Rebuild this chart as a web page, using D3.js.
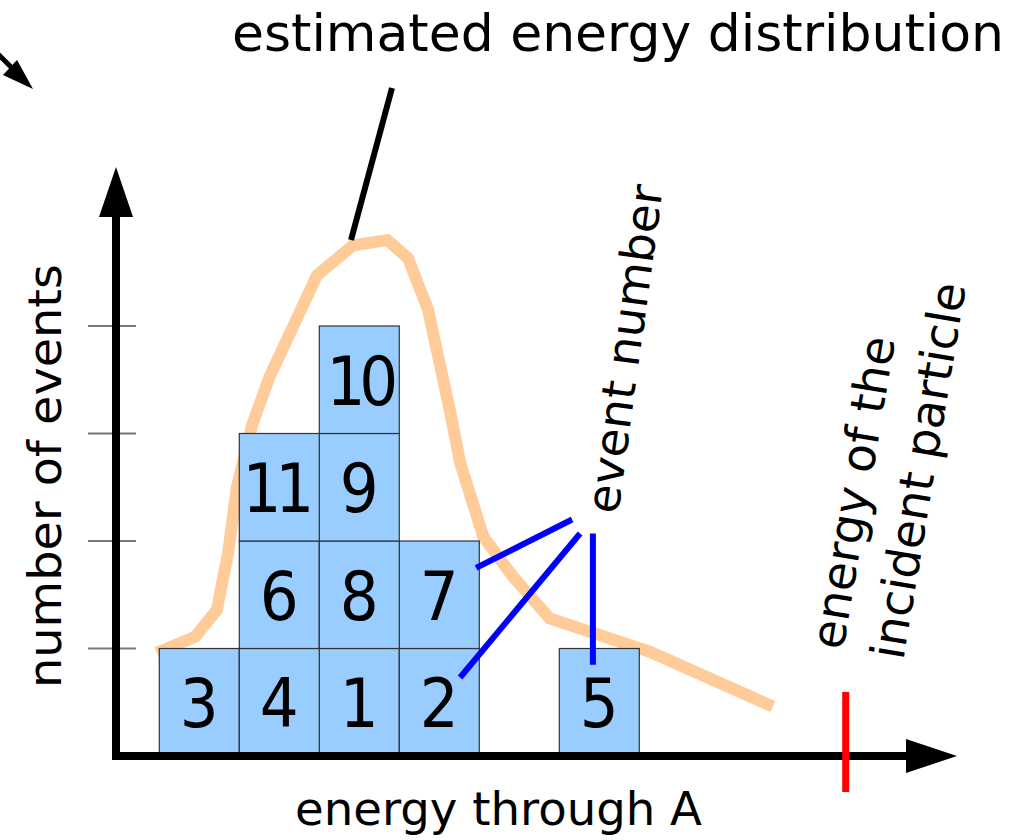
<!DOCTYPE html>
<html>
<head>
<meta charset="utf-8">
<script src="https://cdn.jsdelivr.net/npm/d3@7"></script>
<style>
  body { margin: 0; background: #fff; }
  svg { display: block; }
  text { font-family: 'DejaVu Sans', sans-serif; fill: #000; }
  .box { fill: #99ccff; stroke: #333; stroke-width: 1.2; }
  .box_label { font-family: 'DejaVu Sans Condensed', 'DejaVu Sans', sans-serif; font-size: 68px; text-anchor: middle; }
  .tick_line { stroke: #777; stroke-width: 2; }
  .axis_line { stroke: #000; stroke-width: 8; }
</style>
</head>
<body>
<svg id="chart" width="1022" height="840"></svg>
<script>
// bin of each event, event number = index + 1 (stacked in arrival order)
const eventBins = [2, 3, 0, 1, 5, 1, 3, 2, 2, 2, 1];
const yTicks = [1, 2, 3, 4];

// estimated energy distribution (energy in bin units, height in events)
const curveE = [-0.03, 0.45, 0.72, 0.86, 0.97, 1.16, 1.38, 1.97, 2.42, 2.85, 3.11, 3.36, 3.63, 3.76, 4.05, 4.42, 4.88, 6.13, 7.67];
const curveN = [0.96, 1.11, 1.36, 1.89, 2.50, 3.08, 3.53, 4.47, 4.75, 4.80, 4.63, 4.15, 3.22, 2.73, 2.04, 1.67, 1.28, 0.97, 0.46];

const incidentEnergy = 8.58;

// "event number" pointers: from label point to box
const pointerEvents = [7, 2, 5];
const pointerFrom = [[5.16, 2.20], [5.26, 2.07], [5.42, 2.07]];
const pointerTo = [[3.96, 1.75], [3.76, 0.73], [5.42, 0.85]];

const svg = d3.select('#chart');
svg.append('rect').attr('width', 1022).attr('height', 840).attr('fill', '#fff');

const x = d3.scaleLinear().domain([0, 10]).range([159.3, 959.3]);
const y = d3.scaleLinear().domain([0, 4]).range([756, 326]);

const originX = 116, originY = y(0);
const xTip = 957, yTip = 167;

// stack the events into their bins
const counts = {};
const boxes = eventBins.map((b, i) => {
	const lvl = counts[b] || 0;
	counts[b] = lvl + 1;
	return {num: i + 1, bin: b, lvl: lvl};
});

// y ticks
svg.selectAll('.tick_line')
	.data(yTicks).enter()
	.append('line')
	.attr('class', 'tick_line')
	.attr('x1', originX - 28)
	.attr('x2', originX + 20)
	.attr('y1', d => y(d))
	.attr('y2', d => y(d));

// distribution curve (sits behind the boxes)
const line = d3.line()
	.x(d => x(d[0]))
	.y(d => y(d[1]));

svg.append('path')
	.datum(d3.zip(curveE, curveN))
	.attr('d', line)
	.style('fill', 'none')
	.style('stroke', '#ffcc99')
	.style('stroke-width', 12)
	.style('stroke-linejoin', 'miter');

// boxes
const gBox = svg.selectAll('.g_box')
	.data(boxes).enter()
	.append('g')
	.attr('class', 'g_box');

gBox.append('rect')
	.attr('class', 'box')
	.attr('x', d => x(d.bin))
	.attr('y', d => y(d.lvl + 1))
	.attr('width', d => x(d.bin + 1) - x(d.bin))
	.attr('height', d => y(d.lvl) - y(d.lvl + 1));

gBox.append('text')
	.attr('class', 'box_label')
	.attr('x', d => x(d.bin + 0.5) - (d.num === 11 ? 4 : 0))
	.attr('y', d => y(d.lvl + 0.5) + 0.3645 * 68)
	.style('letter-spacing', d => d.num > 9 ? '-6px' : null)
	.text(d => d.num);

// axes with arrow heads
svg.append('line')
	.attr('class', 'axis_line')
	.attr('x1', originX).attr('y1', originY + 4)
	.attr('x2', originX).attr('y2', yTip + 45);
svg.append('line')
	.attr('class', 'axis_line')
	.attr('x1', originX - 4).attr('y1', originY)
	.attr('x2', xTip - 45).attr('y2', originY);

svg.append('path')
	.attr('d', `M${originX},${yTip} L${originX - 17},${yTip + 50} L${originX + 17},${yTip + 50} Z`)
	.style('fill', '#000');
svg.append('path')
	.attr('d', `M${xTip},${originY} L${xTip - 51},${originY - 17} L${xTip - 51},${originY + 17} Z`)
	.style('fill', '#000');

// incident particle energy
svg.append('line')
	.attr('x1', x(incidentEnergy)).attr('x2', x(incidentEnergy))
	.attr('y1', originY - 64).attr('y2', originY + 36)
	.style('stroke', '#ff0000')
	.style('stroke-width', 7);

// event number pointers
svg.selectAll('.pointer')
	.data(pointerEvents).enter()
	.append('line')
	.attr('class', 'pointer')
	.attr('x1', (d, i) => x(pointerFrom[i][0]))
	.attr('y1', (d, i) => y(pointerFrom[i][1]))
	.attr('x2', (d, i) => x(pointerTo[i][0]))
	.attr('y2', (d, i) => y(pointerTo[i][1]))
	.style('stroke', '#0000ff')
	.style('stroke-width', 6);

// title pointer
svg.append('line')
	.attr('x1', 392).attr('y1', 88)
	.attr('x2', 351).attr('y2', 240)
	.style('stroke', '#000')
	.style('stroke-width', 6);

// stray arrow in the top-left corner
svg.append('line')
	.attr('x1', -12).attr('y1', 44)
	.attr('x2', 12).attr('y2', 68)
	.style('stroke', '#000')
	.style('stroke-width', 5);
svg.append('path')
	.attr('d', 'M33,89 L3,75 L17,60 Z')
	.style('fill', '#000');

// labels
svg.append('text')
	.attr('x', 232).attr('y', 51)
	.attr('textLength', 772)
	.attr('lengthAdjust', 'spacingAndGlyphs')
	.style('font-size', '51px')
	.text('estimated energy distribution');

svg.append('text')
	.attr('x', 295).attr('y', 825)
	.attr('textLength', 407)
	.attr('lengthAdjust', 'spacingAndGlyphs')
	.style('font-size', '46px')
	.text('energy through A');

svg.append('text')
	.attr('transform', 'translate(61,688) rotate(-90)')
	.attr('textLength', 424)
	.attr('lengthAdjust', 'spacingAndGlyphs')
	.style('font-size', '47px')
	.text('number of events');

svg.append('text')
	.attr('transform', 'translate(618,515) rotate(-82.2)')
	.attr('textLength', 331)
	.attr('lengthAdjust', 'spacingAndGlyphs')
	.style('font-size', '46px')
	.text('event number');

const gInc = svg.append('g')
	.attr('transform', 'translate(843,651) rotate(-80.5)');
gInc.append('text')
	.attr('x', 0).attr('y', 0)
	.style('font-size', '47px')
	.text('energy of the');
gInc.append('text')
	.attr('x', 0).attr('y', 61)
	.style('font-size', '47px')
	.text('incident particle');
</script>
</body>
</html>
